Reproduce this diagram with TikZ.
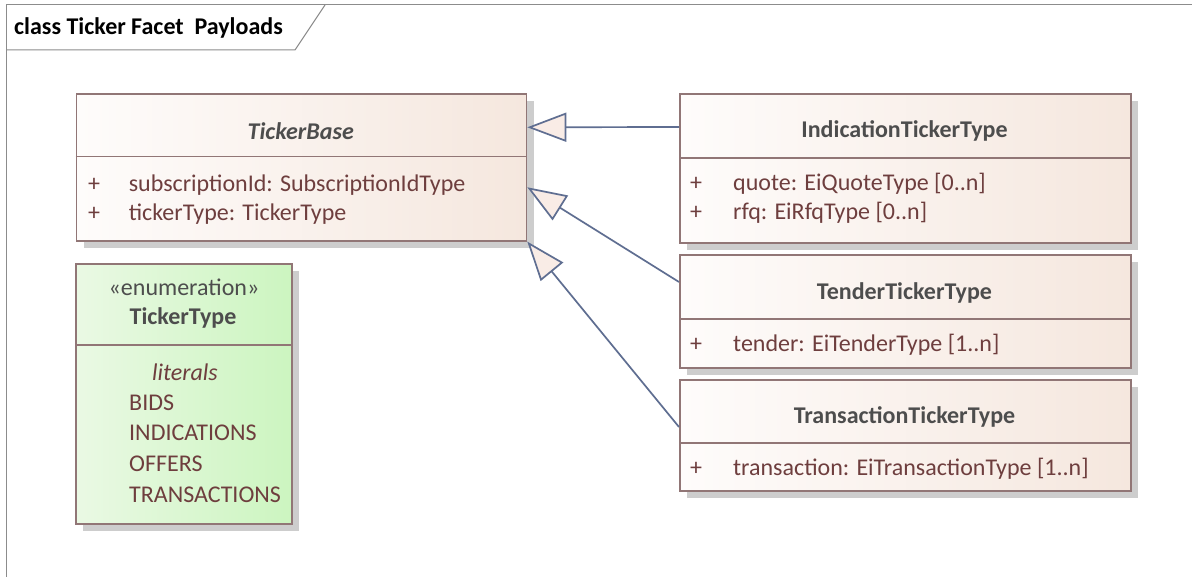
\documentclass[tikz,border=0pt]{standalone}
\usepackage{fontspec}
\setmainfont{Carlito}
\usetikzlibrary{arrows.meta,shadows}

\definecolor{frameline}{RGB}{140,140,140}
\definecolor{boxline}{RGB}{145,118,118}
\definecolor{classleft}{RGB}{254,252,251}
\definecolor{classright}{RGB}{245,231,222}
\definecolor{enumleft}{RGB}{234,249,228}
\definecolor{enumright}{RGB}{204,245,192}
\definecolor{shadowc}{RGB}{205,205,205}
\definecolor{titletext}{RGB}{77,77,77}
\definecolor{attrtext}{RGB}{110,62,62}
\definecolor{connline}{RGB}{95,110,145}
\definecolor{headfill}{RGB}{249,236,230}

\newcommand\boxfont{\fontsize{24}{28}\selectfont}

\tikzset{
  txt/.style={font=\boxfont, inner sep=0pt},
  classbox/.style={draw=boxline, line width=1.6pt, anchor=north west, inner sep=0pt,
    left color=classleft, right color=classright,
    drop shadow={shadow xshift=7pt, shadow yshift=-7pt, fill=shadowc, opacity=1}},
  enumbox/.style={classbox, left color=enumleft, right color=enumright},
  divider/.style={draw=boxline, line width=1.6pt},
  cname/.style={txt, text=titletext, font=\boxfont\bfseries},
  attr/.style={txt, text=attrtext, anchor=west},
  gen/.style={draw=connline, line width=1.7pt,
    -{Triangle[length=39pt, width=29pt, fill=headfill, line width=1.7pt]}},
}

\begin{document}
\begin{tikzpicture}[x=1pt, y=-1pt]
\useasboundingbox (0,0) rectangle (1192,577);
\fill[white] (0,0) rectangle (1192,577);

% diagram frame and its name tab
\draw[frameline, line width=1pt] (6,577) -- (6,5) -- (1192,5);
\draw[frameline, line width=1pt] (6,50) -- (295,50) -- (325,5);
\node[txt, anchor=west, font=\boxfont\bfseries, text=black] (frametitle) at (14,28) {class Ticker Facet\ \ Payloads};

% TickerBase
\node[classbox, minimum width=450pt, minimum height=146.7pt] (base) at (75.7,93.3) {};
\draw[divider] ([yshift=-63.4pt]base.north west) -- ([yshift=-63.4pt]base.north east);
\node[cname, font=\boxfont\bfseries\itshape] (basename) at (300.7,131) {TickerBase};
\node[attr] (basep1) at (88,185) {+};
\node[attr] (basea1) at (128.6,185) {subscriptionId: SubscriptionIdType};
\node[attr] (basep2) at (88,214) {+};
\node[attr] (basea2) at (128.6,214) {tickerType: TickerType};

% IndicationTickerType
\node[classbox, minimum width=451pt, minimum height=149pt] (ind) at (679,93) {};
\draw[divider] ([yshift=-65pt]ind.north west) -- ([yshift=-65pt]ind.north east);
\node[cname] (indname) at (904.5,131) {IndicationTickerType};
\node[attr] (indp1) at (690,184) {+};
\node[attr] (inda1) at (733,184) {quote: EiQuoteType [0..n]};
\node[attr] (indp2) at (690,213) {+};
\node[attr] (inda2) at (733,213) {rfq: EiRfqType [0..n]};

% TenderTickerType
\node[classbox, minimum width=451pt, minimum height=113pt] (tender) at (679,254) {};
\draw[divider] ([yshift=-65pt]tender.north west) -- ([yshift=-65pt]tender.north east);
\node[cname] (tendername) at (904.5,293) {TenderTickerType};
\node[attr] (tenderp1) at (690,345) {+};
\node[attr] (tendera1) at (733,345) {tender: EiTenderType [1..n]};

% TransactionTickerType
\node[classbox, minimum width=451pt, minimum height=111pt] (trans) at (679,379) {};
\draw[divider] ([yshift=-64pt]trans.north west) -- ([yshift=-64pt]trans.north east);
\node[cname] (transname) at (904.5,417) {TransactionTickerType};
\node[attr] (transp1) at (690,469) {+};
\node[attr] (transa1) at (733,469) {transaction: EiTransactionType [1..n]};

% TickerType enumeration
\node[enumbox, minimum width=216pt, minimum height=260pt] (enum) at (75,263) {};
\draw[divider] ([yshift=-82pt]enum.north west) -- ([yshift=-82pt]enum.north east);
\node[txt, text=titletext] (enumst) at (184,287) {«enumeration»};
\node[cname] (enumname) at (183,318) {TickerType};
\node[txt, text=attrtext, font=\boxfont\itshape] (enumlit) at (185,372) {literals};
\node[attr] (lit1) at (129,403) {BIDS};
\node[attr] (lit2) at (129,433) {INDICATIONS};
\node[attr] (lit3) at (129,464) {OFFERS};
\node[attr] (lit4) at (129,495) {TRANSACTIONS};

% generalisations
\draw[gen] ([yshift=-34pt]ind.north west) -- ([yshift=-34pt]base.north east);
\draw[gen] ([yshift=-28pt]tender.north west) -- ([yshift=-94pt]base.north east);
\draw[gen] ([yshift=-48pt]trans.north west) -- (base.south east);
\end{tikzpicture}
\end{document}
